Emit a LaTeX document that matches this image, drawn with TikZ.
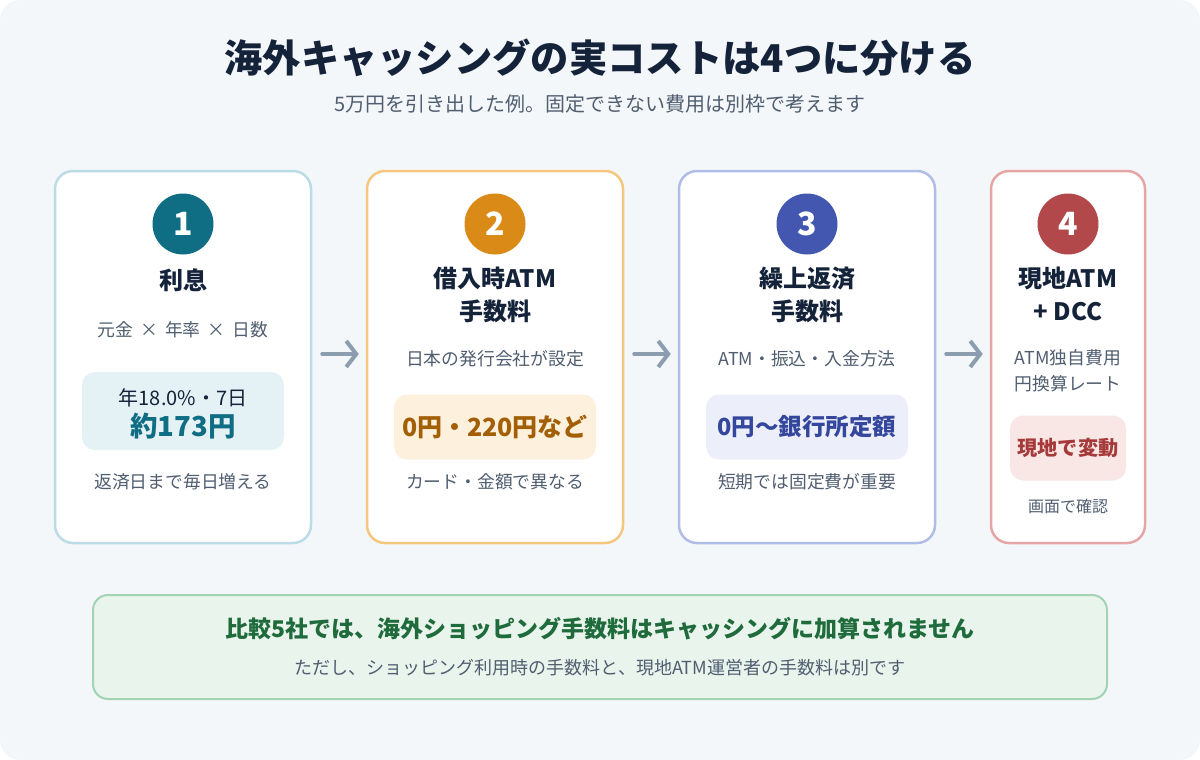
\documentclass[tikz,border=0pt]{standalone}
\usepackage{fontspec}
\setmainfont{Noto Sans CJK JP}
\usetikzlibrary{arrows.meta,positioning}
\definecolor{Ink}{HTML}{14233A}
\definecolor{Slate}{HTML}{505E70}
\definecolor{Backdrop}{HTML}{F4F7FA}
\definecolor{Arrow}{HTML}{8C9DB0}
\definecolor{TealLine}{HTML}{BBDCE6}
\definecolor{Teal}{HTML}{0F6E84}
\definecolor{TealSoft}{HTML}{E4F1F5}
\definecolor{AmberLine}{HTML}{F5C77E}
\definecolor{Amber}{HTML}{D98A17}
\definecolor{AmberSoft}{HTML}{FDF0DC}
\definecolor{AmberText}{HTML}{A35F06}
\definecolor{IndigoLine}{HTML}{B0BDE6}
\definecolor{Indigo}{HTML}{4357B0}
\definecolor{IndigoSoft}{HTML}{ECEFFA}
\definecolor{IndigoText}{HTML}{34479C}
\definecolor{RoseLine}{HTML}{E6A5A5}
\definecolor{Rose}{HTML}{B2484A}
\definecolor{RoseSoft}{HTML}{F9E7E6}
\definecolor{RoseText}{HTML}{A63A3A}
\definecolor{MintLine}{HTML}{A2D4B4}
\definecolor{MintSoft}{HTML}{E8F4EC}
\definecolor{Forest}{HTML}{1F6B3C}
\tikzset{
  card/.style={
    draw=#1, line width=2.5pt, fill=white, rounded corners=18pt,
    minimum height=372pt
  },
  badge/.style={
    circle, fill=#1, text=white, minimum size=61pt,
    inner sep=0pt, font=\fontsize{32}{32}\selectfont\bfseries
  },
  heading/.style={text=Ink, align=center, font=\fontsize{24}{33}\selectfont\bfseries},
  note/.style={text=Slate, align=center, font=\fontsize{17.8}{26}\selectfont},
  valuebox/.style={fill=#1, rounded corners=13pt, minimum height=65pt},
  value/.style={text=#1, font=\fontsize{23.5}{26}\selectfont\bfseries},
  flow/.style={-{Straight Barb[length=10pt,width=26pt]}, line width=4pt,
    line cap=round, line join=round, draw=Arrow}
}
\begin{document}
\begin{tikzpicture}[x=1pt,y=-1pt]
  \useasboundingbox (0,0) rectangle (1200,760);
  \fill[Backdrop,rounded corners=20pt] (0,0) rectangle (1200,760);
  \node[text=Ink,font=\fontsize{38.3}{42}\selectfont\bfseries] (title) at (600,58) {海外キャッシングの実コストは4つに分ける};
  \node[text=Slate,font=\fontsize{20}{23}\selectfont] (sub) at (600,104) {5万円を引き出した例。固定できない費用は別枠で考えます};

  \node[card=TealLine,minimum width=256pt] (c1) at (183,357) {};
  \node[card=AmberLine,minimum width=256pt] (c2) at (495,357) {};
  \node[card=IndigoLine,minimum width=256pt] (c3) at (807,357) {};
  \node[card=RoseLine,minimum width=154pt] (c4) at (1068,357) {};

  \node[badge=Teal] (b1) at (183,224) {1};
  \node[badge=Amber] (b2) at (495,224) {2};
  \node[badge=Indigo] (b3) at (807,224) {3};
  \node[badge=Rose] (b4) at (1068,224) {4};

  \node[heading] (h1) at (183,280) {利息};
  \node[heading] (h2) at (495,295) {借入時ATM\\手数料};
  \node[heading] (h3) at (807,295) {繰上返済\\手数料};
  \node[heading] (h4) at (1068,294) {現地ATM\\+ DCC};

  \node[note] (n1) at (183,330) {元金\hspace{7pt}×\hspace{7pt}年率\hspace{7pt}×\hspace{7pt}日数};
  \node[note] (n2) at (495,359) {日本の発行会社が設定};
  \node[note] (n3) at (807,359) {ATM・振込・入金方法};
  \node[note] (n4) at (1068,371) {ATM独自費用\\円換算レート};

  \node[valuebox=TealSoft,minimum width=202pt,minimum height=78pt] (v1) at (183,411) {};
  \node[text=Ink,font=\fontsize{20}{22}\selectfont] (r1) at (183,398) {年18.0\%・7日};
  \node[value=Teal,font=\fontsize{27.5}{30}\selectfont\bfseries] (p1) at (183,426) {約173円};
  \node[valuebox=AmberSoft,minimum width=202pt] (v2) at (495,427) {};
  \node[value=AmberText,font=\fontsize{25}{28}\selectfont\bfseries] (p2) at (495,427) {0円・220円など};
  \node[valuebox=IndigoSoft,minimum width=202pt] (v3) at (807,427) {};
  \node[value=IndigoText] (p3) at (807,427) {0円〜銀行所定額};
  \node[valuebox=RoseSoft,minimum width=116pt] (v4) at (1068,448) {};
  \node[value=RoseText,font=\fontsize{20.2}{24}\selectfont\bfseries] (p4) at (1068,448) {現地で変動};

  \node[note] (f1) at (183,482) {返済日まで毎日増える};
  \node[note] (f2) at (495,482) {カード・金額で異なる};
  \node[note] (f3) at (807,482) {短期では固定費が重要};
  \node[note,font=\fontsize{16}{18}\selectfont] (f4) at (1068,506) {画面で確認};

  \draw[flow] ([shift={(10pt,3pt)}]c1.east) -- ([shift={(-7pt,3pt)}]c2.west);
  \draw[flow] ([shift={(10pt,3pt)}]c2.east) -- ([shift={(-7pt,3pt)}]c3.west);
  \draw[flow] ([shift={(10pt,3pt)}]c3.east) -- ([shift={(-7pt,3pt)}]c4.west);

  \node[draw=MintLine,line width=2pt,fill=MintSoft,rounded corners=15pt,
    minimum width=1014pt,minimum height=104pt] (foot) at (600,647) {};
  \node[text=Forest,font=\fontsize{23}{26}\selectfont\bfseries] (k1) at (600,629) {比較5社では、海外ショッピング手数料はキャッシングに加算されません};
  \node[text=Slate,font=\fontsize{18}{21}\selectfont] (k2) at (600,668) {ただし、ショッピング利用時の手数料と、現地ATM運営者の手数料は別です};
\end{tikzpicture}
\end{document}
